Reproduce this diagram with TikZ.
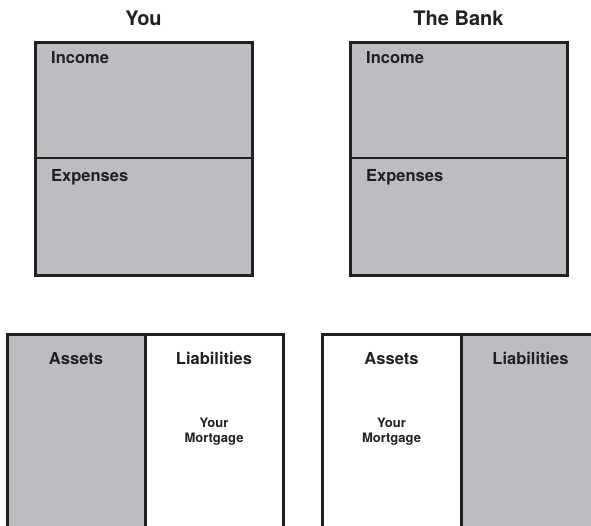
\documentclass[tikz,border=0pt]{standalone}
\usepackage{fontspec}
\setmainfont{TeX Gyre Heros}
\definecolor{boxgray}{HTML}{BCBDC1}
\definecolor{ink}{HTML}{231F20}
\begin{document}
\begin{tikzpicture}[x=1pt,y=-1pt,
  frame/.style={draw=ink,line width=3pt,line join=miter},
  divider/.style={draw=ink,line width=2.7pt},
  title/.style={font=\fontsize{20}{22}\selectfont\bfseries,text=ink,anchor=base,inner sep=0pt},
  lab/.style={font=\fontsize{16.5}{19}\selectfont\bfseries,text=ink,anchor=base west,inner sep=0pt},
  clab/.style={font=\fontsize{16.5}{19}\selectfont\bfseries,text=ink,anchor=base,inner sep=0pt},
  small/.style={font=\fontsize{13}{15}\selectfont\bfseries,text=ink,anchor=base,inner sep=0pt}]
\useasboundingbox (0,0) rectangle (591,525);
\clip (0,0) rectangle (591,525);
% top-left: You
\fill[boxgray] (35,42) rectangle (252,275);
\draw[divider] (35,158) -- (252,158);
\draw[frame] (35,42) rectangle (252,275);
\node[title] (you) at (143.5,25) {You};
\node[lab] (inc1) at (51,63) {Income};
\node[lab] (exp1) at (51,181) {Expenses};
% top-right: The Bank
\fill[boxgray] (350,42) rectangle (567,275);
\draw[divider] (350,158) -- (567,158);
\draw[frame] (350,42) rectangle (567,275);
\node[title] (bank) at (458.5,25) {The Bank};
\node[lab] (inc2) at (366,63) {Income};
\node[lab] (exp2) at (366,181) {Expenses};
% bottom-left
\fill[boxgray] (7,334) rectangle (145,540);
\fill[white] (145,334) rectangle (283,540);
\draw[frame] (145,334) -- (145,540);
\draw[frame] (7,334) rectangle (283,540);
\node[clab] (as1) at (76,364) {Assets};
\node[clab] (li1) at (214,364) {Liabilities};
\node[small] (m1a) at (214,427) {Your};
\node[small] (m1b) at (214,442) {Mortgage};
% bottom-right
\fill[white] (322,334) rectangle (461,540);
\fill[boxgray] (461,334) rectangle (600,540);
\draw[frame] (461,334) -- (461,540);
\draw[frame] (322,334) rectangle (600,540);
\node[clab] (as2) at (391.5,364) {Assets};
\node[clab] (li2) at (530.5,364) {Liabilities};
\node[small] (m2a) at (391.5,427) {Your};
\node[small] (m2b) at (391.5,442) {Mortgage};
\end{tikzpicture}
\end{document}
